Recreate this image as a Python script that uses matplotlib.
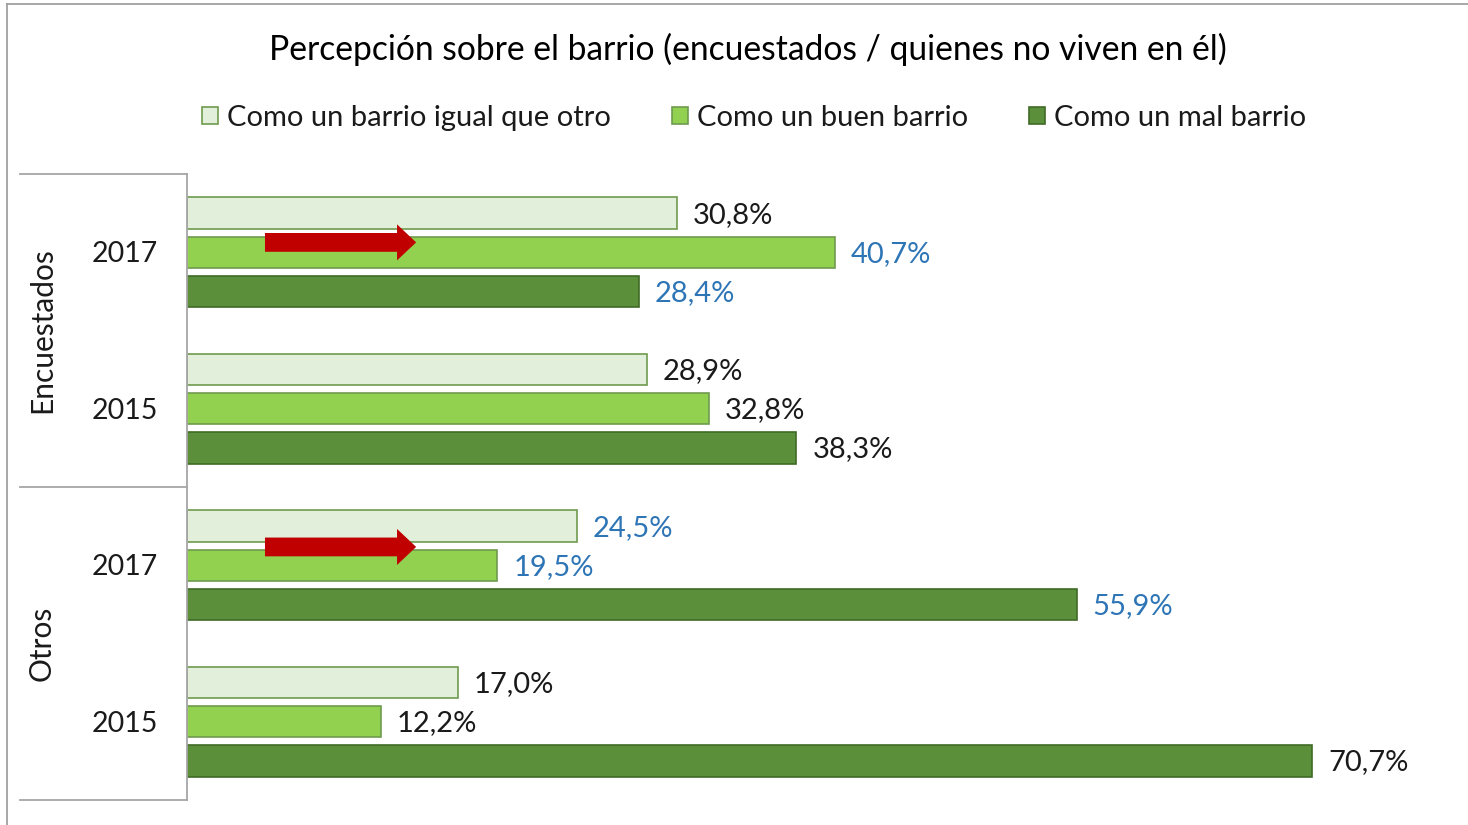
import matplotlib
matplotlib.use("Agg")
import matplotlib.pyplot as plt
from matplotlib.patches import Patch, FancyArrow
from matplotlib.lines import Line2D

plt.rcParams['font.family'] = ['Lato', 'DejaVu Sans']

title = "Percepción sobre el barrio (encuestados / quienes no viven en él)"
series_names = ["Como un barrio igual que otro", "Como un buen barrio", "Como un mal barrio"]
groups = ["Encuestados", "Otros"]
years = ["2017", "2015", "2017", "2015"]
igual = [30.8, 28.9, 24.5, 17.0]
bueno = [40.7, 32.8, 19.5, 12.2]
malo = [28.4, 38.3, 55.9, 70.7]
# which labels are highlighted in blue (per category, per series)
highlight = [[False, True, True], [False, False, False], [True, True, True], [False, False, False]]

fills = ["#E2EFDA", "#92D050", "#5B8F3A"]
edges = ["#6E9B4E", "#6E9B4E", "#3F6B27"]
txt_dark = "#1A1A1A"
txt_blue = "#2E75B6"

W, H = 1468, 825
fig = plt.figure(figsize=(W / 100, H / 100), dpi=100)

ax_left, ax_right, ax_top, ax_bot = 187, 1460, 174, 800
ax = fig.add_axes([ax_left / W, 1 - ax_bot / H, (ax_right - ax_left) / W, (ax_bot - ax_top) / H])
ax.set_xlim(0, 80)
ax.set_ylim(4, 0)

all_series = [igual, bueno, malo]
offsets = [-0.25, 0.0, 0.25]
for s, vals in enumerate(all_series):
    ys = [i + 0.5 + offsets[s] for i in range(len(vals))]
    ax.barh(ys, vals, height=0.2, color=fills[s], edgecolor=edges[s], linewidth=1.2, zorder=2)
    for i, v in enumerate(vals):
        col = txt_blue if highlight[i][s] else txt_dark
        ax.annotate(f"{v:.1f}%".replace(".", ","), (v, ys[i]), xytext=(11.5, -1.2),
                    textcoords="offset points", va="center", ha="left",
                    fontsize=21, color=col, zorder=3)

# red arrows (annotations)
for yc in [0.437, 2.383]:
    ax.add_patch(FancyArrow(4.9, yc, 9.5, 0, width=0.12, head_width=0.23, head_length=1.2,
                            length_includes_head=True, color="#C00000", linewidth=0, zorder=4))

ax.set_xticks([])
ax.set_yticks([])
for sp in ["top", "right", "bottom"]:
    ax.spines[sp].set_visible(False)
ax.spines["left"].set_color("#A6A6A6")
ax.spines["left"].set_linewidth(1.3)

# category labels
for i, yr in enumerate(years):
    fig.text(125 / W, 1 - (ax_top + (i + 0.5) * 156.5 + 2) / H, yr, ha="center", va="center",
             fontsize=20.5, color=txt_dark)
for g, name in enumerate(groups):
    yc = ax_top + (g * 2 + 1) * 156.5
    fig.text(42 / W, 1 - yc / H, name, ha="center", va="center", rotation=90,
             fontsize=21.5, color=txt_dark)

# group separator lines
for yy in [174, 487, 800]:
    fig.add_artist(Line2D([20 / W, 187 / W], [1 - yy / H, 1 - yy / H], color="#A6A6A6", lw=1.3))

# chart frame (top and left edge)
fig.add_artist(Line2D([7 / W, 7 / W], [1 - 4 / H, 0], color="#A0A0A0", lw=1.3))
fig.add_artist(Line2D([7 / W, 1], [1 - 4 / H, 1 - 4 / H], color="#A0A0A0", lw=1.3))

fig.text(748 / W, 1 - 49 / H, title, ha="center", va="center", fontsize=24.2, color="#000000")

handles = [Patch(facecolor=fills[i], edgecolor=edges[i], linewidth=1.2) for i in range(3)]
fig.legend(handles, series_names, loc="center", bbox_to_anchor=(754 / W, 1 - 118 / H), ncol=3,
           frameon=False, fontsize=21, handlelength=0.55, handleheight=0.55, handletextpad=0.3,
           columnspacing=2.1, labelcolor=txt_dark, borderpad=0, borderaxespad=0)

fig.savefig("out.png", dpi=100, facecolor="white")
